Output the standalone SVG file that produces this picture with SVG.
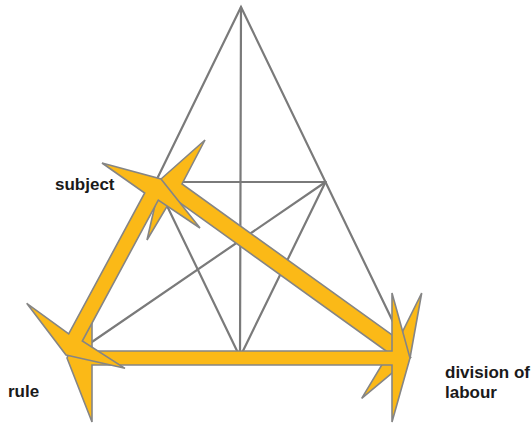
<svg xmlns="http://www.w3.org/2000/svg" width="531" height="423" viewBox="0 0 531 423">
<style>
.grid{stroke:#7a7a7a;stroke-width:2.2;fill:none;stroke-linecap:round}
.arrow{fill:#FBB917;stroke:#858585;stroke-width:1.6;stroke-linejoin:miter}
.lbl{font-family:"Liberation Sans",Arial,sans-serif;font-weight:bold;font-size:17px;fill:#1a1a1a}
</style>
<rect width="531" height="423" fill="#ffffff"/>
<g id="grid">
<polygon class="grid" points="241,7 70,357 410,357"/>
<line class="grid" x1="155.5" y1="182" x2="325.5" y2="182"/>
<line class="grid" x1="241" y1="7" x2="240" y2="357"/>
<line class="grid" x1="240" y1="357" x2="155.5" y2="182"/>
<line class="grid" x1="240" y1="357" x2="325.5" y2="182"/>
<line class="grid" x1="70" y1="357" x2="325.5" y2="182"/>
</g>
<g id="connectors">
<polygon id="arrow-subject-division" class="arrow" points="161,179 205,140 182,184 398.6,339.6 421.7,293 410,358 361.7,398.3 389,353 172.4,197.4 147,240"/>
<polygon id="arrow-rule-division" class="arrow" points="67,358 92,293 92,351 392,351 392,293 410,358 392,422 392,365 92,365 92,422"/>
<polygon id="arrow-rule-subject" class="arrow" points="66,355 125,368.3 82.3,341 158.3,200.2 200,228 161,179 102,163 144.7,193 68.7,333.8 26.7,303.3"/>
</g>
<g id="node-subject"><text class="lbl" x="55" y="190">subject</text></g>
<g id="node-rule"><text class="lbl" x="8" y="397">rule</text></g>
<g id="node-division"><text class="lbl" x="445" y="378">division of</text><text class="lbl" x="445" y="398">labour</text></g>
</svg>
